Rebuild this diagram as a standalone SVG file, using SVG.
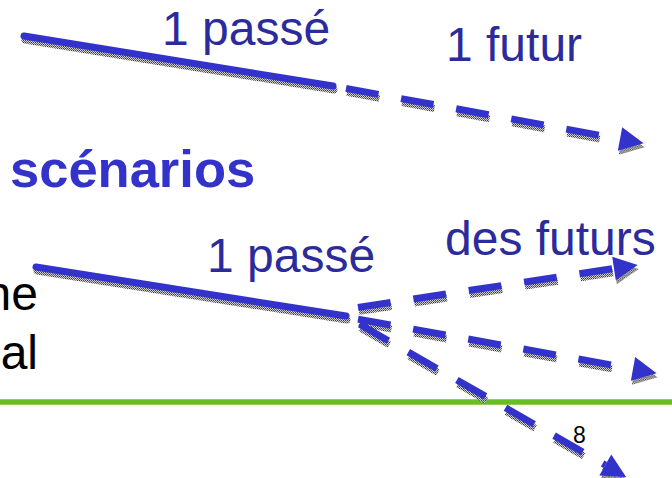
<svg xmlns="http://www.w3.org/2000/svg" xmlns:xlink="http://www.w3.org/1999/xlink" width="672" height="478" viewBox="0 0 672 478">
  <style>
    .label { font-family: "Liberation Sans", Arial, sans-serif; font-size: 48px; fill: #2b2b9b; }
    .title { font-family: "Liberation Sans", Arial, sans-serif; font-size: 52.5px; font-weight: bold; fill: #3333cc; }
    .body  { font-family: "Liberation Sans", Arial, sans-serif; font-size: 48px; fill: #000000; }
    .page  { font-family: "Liberation Sans", Arial, sans-serif; font-size: 23px; fill: #000000; }
    .solid  { fill: none; stroke-width: 7; stroke-linecap: round; }
    .dashed { fill: none; stroke-width: 7; stroke-linecap: butt; stroke-dasharray: 33 23; }
    .ink   { stroke: #3333cc; }
    .shade { stroke: url(#grain); }
    .ink.dashed   { marker-end: url(#head-ink); }
    .shade.dashed { marker-end: url(#head-shade); }
  </style>
  <defs>
    <!-- dithered grey used for the drop shadows -->
    <pattern id="grain" width="2" height="2" patternUnits="userSpaceOnUse">
      <rect width="2" height="2" fill="#d0d0d0"/>
      <rect width="1" height="1" fill="#3a3a3a"/>
      <rect x="1" y="1" width="1" height="1" fill="#666666"/>
    </pattern>
    <marker id="head-ink" markerUnits="userSpaceOnUse" orient="auto" refX="0" refY="0" markerWidth="30" markerHeight="30" overflow="visible">
      <path d="M0,-12 L24,0 L0,12 Z" fill="#3333cc"/>
    </marker>
    <marker id="head-shade" markerUnits="userSpaceOnUse" orient="auto" refX="0" refY="0" markerWidth="30" markerHeight="30" overflow="visible">
      <path d="M0,-12 L24,0 L0,12 Z" fill="url(#grain)"/>
    </marker>
    <!-- connector geometry, drawn twice: shadow then ink -->
    <path id="pastA" d="M24,36 L333,86"/>
    <path id="futureA" d="M346,88.4 L620,139"/>
    <path id="pastB" d="M36,267 L346,316"/>
    <path id="futureB1" d="M358,307.4 L614,268.5"/>
    <path id="futureB2" d="M358,319.1 L633,368.9"/>
    <path id="futureB3" d="M359.7,324.3 L605.3,465"/>
  </defs>

  <rect width="672" height="478" fill="#ffffff"/>

  <!-- slide rule -->
  <line x1="0" y1="402" x2="672" y2="402" stroke="#6bbd26" stroke-width="5.5"/>

  <g id="connectors">
    <g id="shadows" transform="translate(1,4)">
      <use xlink:href="#pastA" class="solid shade"/>
      <use xlink:href="#futureA" class="dashed shade"/>
      <use xlink:href="#pastB" class="solid shade"/>
      <use xlink:href="#futureB1" class="dashed shade"/>
      <use xlink:href="#futureB2" class="dashed shade"/>
      <use xlink:href="#futureB3" class="dashed shade"/>
    </g>
    <g id="strokes">
      <use xlink:href="#pastA" class="solid ink"/>
      <use xlink:href="#futureA" class="dashed ink"/>
      <use xlink:href="#pastB" class="solid ink"/>
      <use xlink:href="#futureB1" class="dashed ink"/>
      <use xlink:href="#futureB2" class="dashed ink"/>
      <use xlink:href="#futureB3" class="dashed ink"/>
    </g>
  </g>

  <g id="label-past-1"><text class="label" x="162" y="45">1 passé</text></g>
  <g id="label-future-1"><text class="label" x="446" y="61">1 futur</text></g>
  <g id="label-scenarios"><text class="title" x="10" y="187">scénarios</text></g>
  <g id="label-past-2"><text class="label" x="207" y="272">1 passé</text></g>
  <g id="label-futures"><text class="label" x="445" y="255">des futurs</text></g>
  <g id="body-text">
    <text class="body" x="38" y="310" text-anchor="end">ne</text>
    <text class="body" x="38" y="369" text-anchor="end">al</text>
  </g>
  <g id="page-number"><text class="page" x="573" y="443">8</text></g>
</svg>
